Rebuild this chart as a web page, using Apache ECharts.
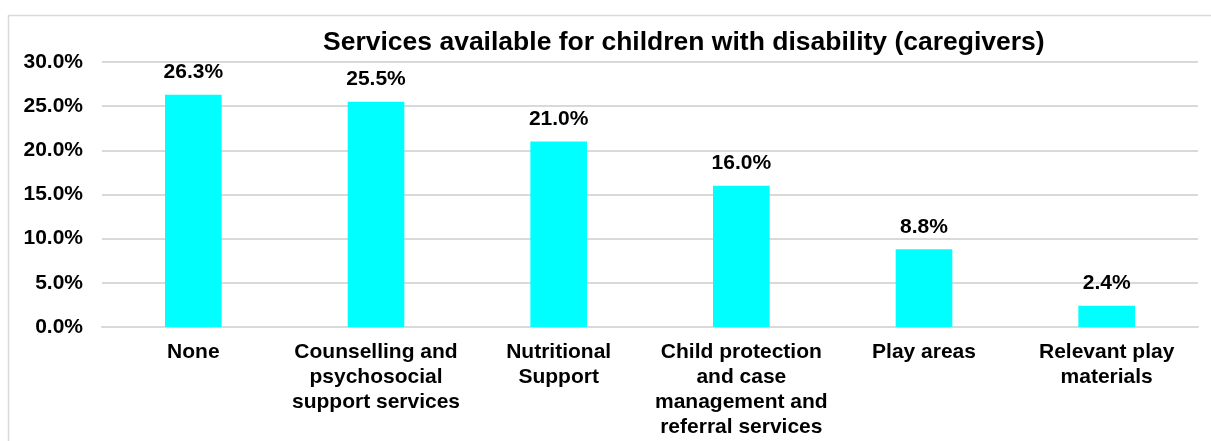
<!DOCTYPE html>
<html>
<head>
<meta charset="utf-8">
<script src="https://cdn.jsdelivr.net/npm/echarts@6/dist/echarts.min.js"></script>
<style>
  html, body { margin: 0; padding: 0; background: #ffffff; }
  #chart { width: 1211px; height: 441px; }
</style>
</head>
<body>
<div id="chart"></div>
<script>
// Services available for children with disability, share of caregivers (%)
const categories = [
  'None',
  'Counselling and\npsychosocial\nsupport services',
  'Nutritional\nSupport',
  'Child protection\nand case\nmanagement and\nreferral services',
  'Play areas',
  'Relevant play\nmaterials'
];
const shares = [26.3, 25.5, 21.0, 16.0, 8.8, 2.4];
const yTicks = { min: 0, max: 30, interval: 5 };
const titleText = 'Services available for children with disability (caregivers)';

const font = '"Liberation Sans", Arial, sans-serif';
const chart = echarts.init(document.getElementById('chart'), null, { renderer: 'canvas' });

chart.setOption({
  backgroundColor: '#ffffff',
  animation: false,
  title: {
    text: titleText,
    left: 318,
    top: 24,
    textStyle: { fontFamily: font, fontSize: 26.5, fontWeight: 'bold', color: '#000000' }
  },
  graphic: [{
    type: 'rect',
    left: 6, top: 13,
    shape: { width: 1212, height: 440 },
    style: { fill: 'none', stroke: '#d9d9d9', lineWidth: 1.5 },
    silent: true
  }],
  grid: { left: 102, right: 13, top: 62, bottom: 114, containLabel: false },
  xAxis: {
    type: 'category',
    data: categories,
    axisLine: { show: true, lineStyle: { color: '#d9d9d9', width: 2 } },
    axisTick: { show: false },
    axisLabel: {
      interval: 0,
      margin: 13,
      fontFamily: font, fontSize: 21, fontWeight: 'bold', color: '#000000',
      lineHeight: 25, align: 'center'
    }
  },
  yAxis: {
    type: 'value',
    min: yTicks.min, max: yTicks.max, interval: yTicks.interval,
    axisLine: { show: false },
    axisTick: { show: false },
    splitLine: { lineStyle: { color: '#d9d9d9', width: 2 } },
    axisLabel: {
      margin: 19,
      fontFamily: font, fontSize: 21, fontWeight: 'bold', color: '#000000',
      formatter: v => v.toFixed(1) + '%'
    }
  },
  series: [{
    type: 'bar',
    data: shares,
    barWidth: '31%',
    itemStyle: { color: '#00ffff' },
    label: {
      show: true,
      position: 'top',
      distance: 12,
      fontFamily: font, fontSize: 21, fontWeight: 'bold', color: '#000000',
      formatter: p => p.value.toFixed(1) + '%'
    }
  }]
});
</script>
</body>
</html>
